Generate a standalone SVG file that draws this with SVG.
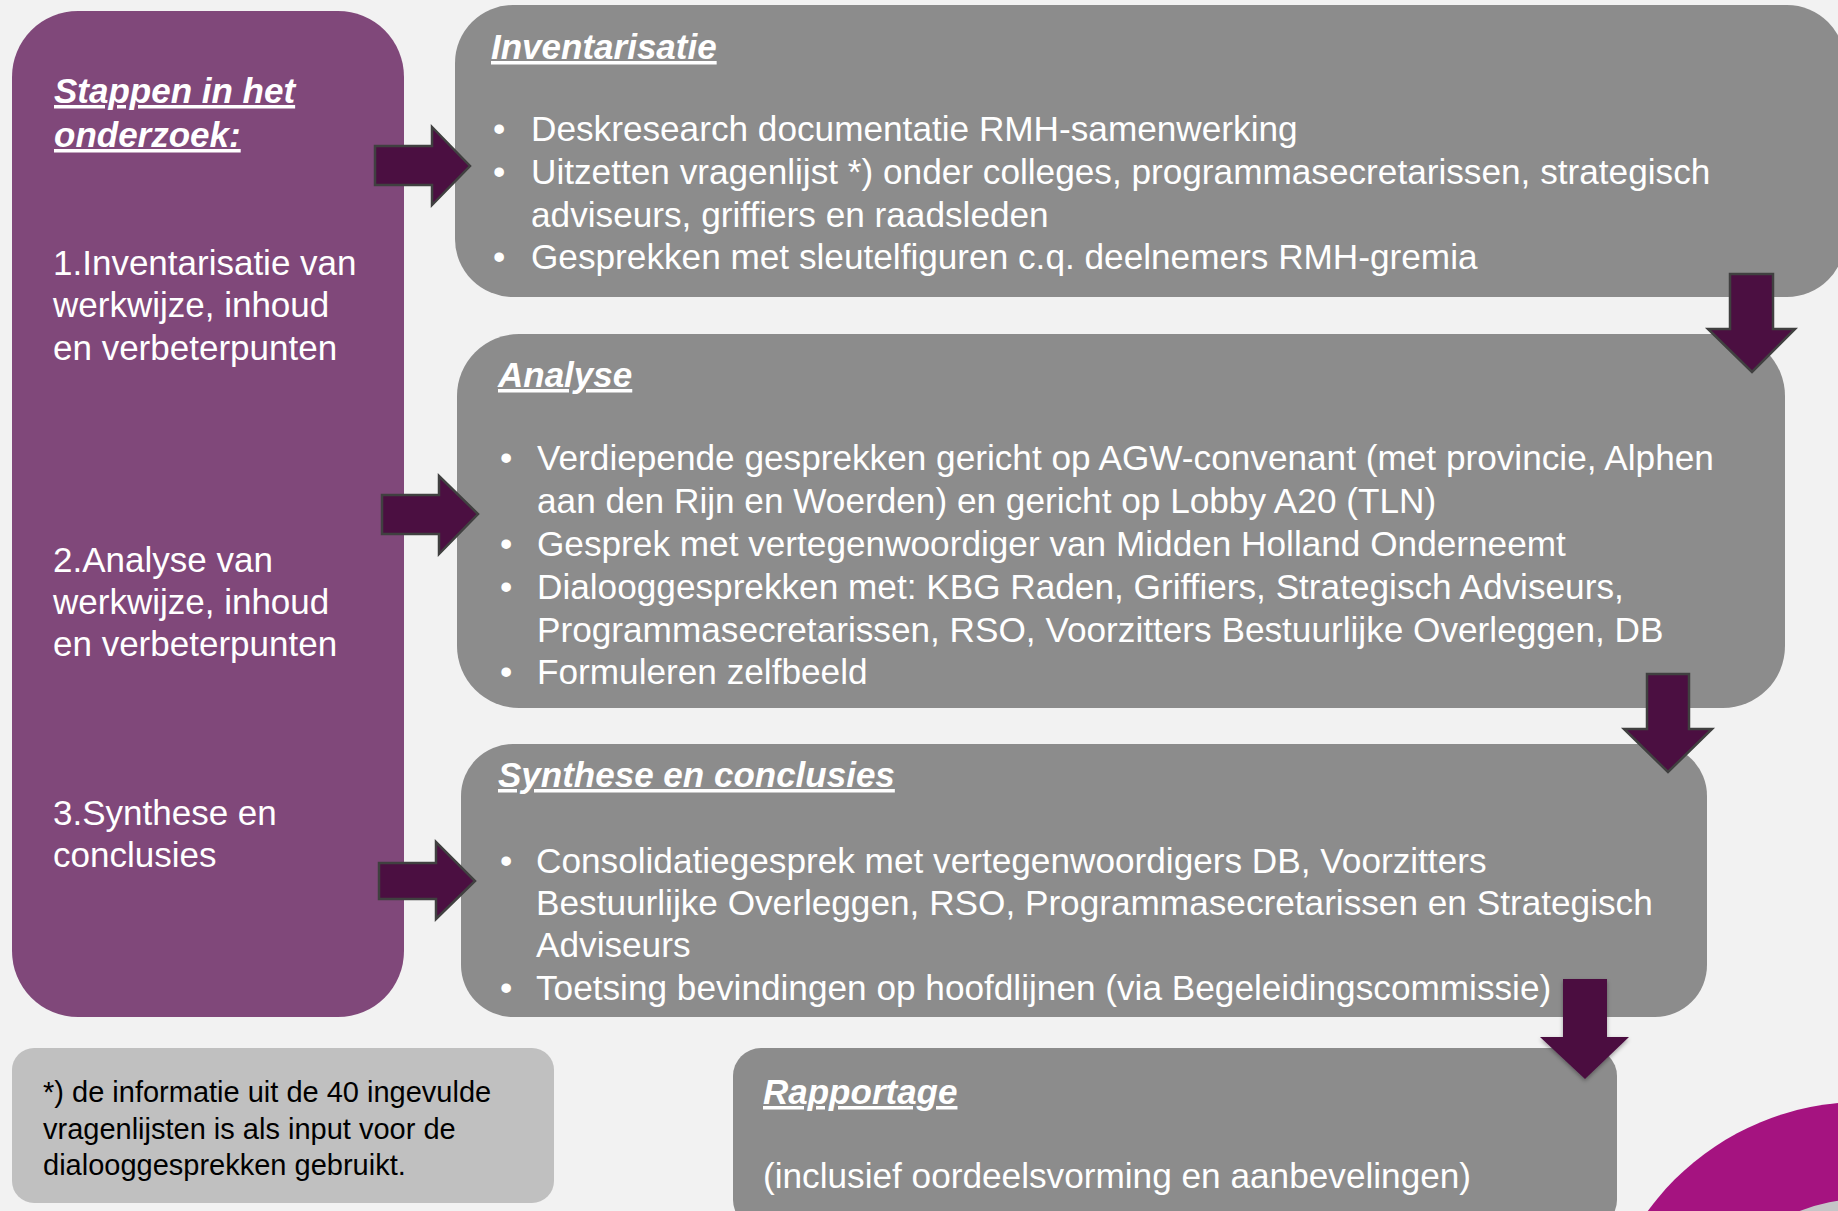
<svg xmlns="http://www.w3.org/2000/svg" width="1838" height="1211" viewBox="0 0 1838 1211">
<style>
  .box { fill: #8c8c8c; }
  .side { fill: #80487a; }
  .note { fill: #c0c0c0; }
  .arrow { fill: #4b0f41; stroke: #404040; stroke-width: 2.5; stroke-linejoin: miter; }
  .t { font-family: "Liberation Sans", Arial, sans-serif; fill: #ffffff; }
  .h { font-family: "Liberation Sans", Arial, sans-serif; fill: #ffffff; font-weight: bold; font-style: italic; text-decoration: underline; font-size: 35px; }
  .b { font-size: 35.2px; }
  .s { font-size: 35px; }
  .n { font-family: "Liberation Sans", Arial, sans-serif; fill: #000000; font-size: 29px; }
</style>
<defs>
  <filter id="sh" x="-20%" y="-20%" width="140%" height="140%">
    <feGaussianBlur in="SourceAlpha" stdDeviation="2"/>
    <feOffset dx="0" dy="2" result="o"/>
    <feComponentTransfer><feFuncA type="linear" slope="0.35"/></feComponentTransfer>
    <feMerge><feMergeNode/><feMergeNode in="SourceGraphic"/></feMerge>
  </filter>
</defs>
<rect x="0" y="0" width="1838" height="1211" fill="#f2f2f2"/>

<g id="logo">
  <circle cx="1862" cy="1367" r="265" fill="#a51380"/>
  <circle cx="1862" cy="1367" r="168" fill="#c5c5c7"/>
</g>

<g id="stappen">
  <rect class="side" x="12" y="11" width="392" height="1006" rx="66" ry="66"/>
  <text class="h" x="54" y="103">Stappen in het</text>
  <text class="h" x="54" y="147">onderzoek:</text>
  <text class="t s" x="53" y="275">1.Inventarisatie van</text>
  <text class="t s" x="53" y="317">werkwijze, inhoud</text>
  <text class="t s" x="53" y="360">en verbeterpunten</text>
  <text class="t s" x="53" y="572">2.Analyse van</text>
  <text class="t s" x="53" y="614">werkwijze, inhoud</text>
  <text class="t s" x="53" y="656">en verbeterpunten</text>
  <text class="t s" x="53" y="825">3.Synthese en</text>
  <text class="t s" x="53" y="867">conclusies</text>
</g>

<g id="inventarisatie">
  <rect class="box" x="455" y="5" width="1390" height="292" rx="58" ry="58"/>
  <text class="h" x="491" y="59">Inventarisatie</text>
  <text class="t b" x="493" y="141">•</text>
  <text class="t b" x="531" y="141">Deskresearch documentatie RMH-samenwerking</text>
  <text class="t b" x="493" y="184">•</text>
  <text class="t b" x="531" y="184">Uitzetten vragenlijst *) onder colleges, programmasecretarissen, strategisch</text>
  <text class="t b" x="531" y="227">adviseurs, griffiers en raadsleden</text>
  <text class="t b" x="493" y="269">•</text>
  <text class="t b" x="531" y="269">Gesprekken met sleutelfiguren c.q. deelnemers RMH-gremia</text>
</g>

<g id="analyse">
  <rect class="box" x="457" y="334" width="1328" height="374" rx="62" ry="62"/>
  <text class="h" x="498" y="387">Analyse</text>
  <text class="t b" x="500" y="470">•</text>
  <text class="t b" x="537" y="470">Verdiepende gesprekken gericht op AGW-convenant (met provincie, Alphen</text>
  <text class="t b" x="537" y="513">aan den Rijn en Woerden) en gericht op Lobby A20 (TLN)</text>
  <text class="t b" x="500" y="556">•</text>
  <text class="t b" x="537" y="556">Gesprek met vertegenwoordiger van Midden Holland Onderneemt</text>
  <text class="t b" x="500" y="599">•</text>
  <text class="t b" x="537" y="599">Dialooggesprekken met: KBG Raden, Griffiers, Strategisch Adviseurs,</text>
  <text class="t b" x="537" y="642">Programmasecretarissen, RSO, Voorzitters Bestuurlijke Overleggen, DB</text>
  <text class="t b" x="500" y="684">•</text>
  <text class="t b" x="537" y="684">Formuleren zelfbeeld</text>
</g>

<g id="synthese">
  <rect class="box" x="461" y="744" width="1246" height="273" rx="52" ry="52"/>
  <text class="h" x="498" y="787">Synthese en conclusies</text>
  <text class="t b" x="500" y="873">•</text>
  <text class="t b" x="536" y="873">Consolidatiegesprek met vertegenwoordigers DB, Voorzitters</text>
  <text class="t b" x="536" y="915">Bestuurlijke Overleggen, RSO, Programmasecretarissen en Strategisch</text>
  <text class="t b" x="536" y="957">Adviseurs</text>
  <text class="t b" x="500" y="1000">•</text>
  <text class="t b" x="536" y="1000">Toetsing bevindingen op hoofdlijnen (via Begeleidingscommissie)</text>
</g>

<g id="rapportage">
  <rect class="box" x="733" y="1048" width="884" height="180" rx="28" ry="28"/>
  <text class="h" x="763" y="1104">Rapportage</text>
  <text class="t b" x="763" y="1188">(inclusief oordeelsvorming en aanbevelingen)</text>
</g>

<g id="voetnoot">
  <rect class="note" x="12" y="1048" width="542" height="155" rx="22" ry="22"/>
  <text class="n" x="43" y="1102">*) de informatie uit de 40 ingevulde</text>
  <text class="n" x="43" y="1139">vragenlijsten is als input voor de</text>
  <text class="n" x="43" y="1175">dialooggesprekken gebruikt.</text>
</g>

<g id="connectors">
  <polygon class="arrow" points="375,146 432,146 432,127 470,166 432,205 432,185 375,185"/>
  <polygon class="arrow" points="382,495 439,495 439,476 478,514 439,554 439,534 382,534"/>
  <polygon class="arrow" points="379,863 436,863 436,842 475,881 436,919 436,899 379,899"/>
  <polygon class="arrow" points="1730,274 1773,274 1773,329 1795,329 1752,372 1708,329 1730,329"/>
  <polygon class="arrow" points="1647,674 1689,674 1689,729 1712,729 1668,772 1624,729 1647,729"/>
  <polygon points="1563,979 1607,979 1607,1037 1629,1037 1585,1079 1540,1037 1563,1037" fill="#4b0f41" filter="url(#sh)"/>
</g>
</svg>
